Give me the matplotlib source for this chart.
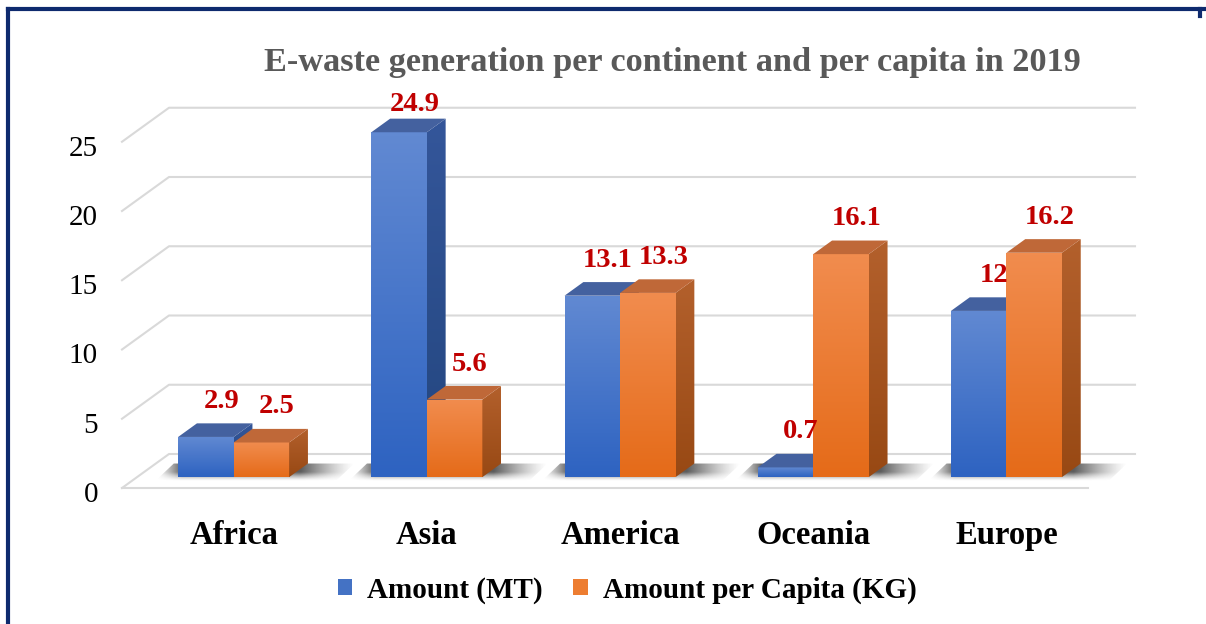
"""
E-waste generation per continent and per capita in 2019
Excel-style 3-D clustered column chart, drawn with a simple oblique projection.
"""

import numpy as np
import matplotlib

matplotlib.use("Agg")
import matplotlib.pyplot as plt
from matplotlib.patches import Polygon, Patch
from matplotlib.colors import LinearSegmentedColormap
from matplotlib.lines import Line2D

# ---------- data ----------
continents = ["Africa", "Asia", "America", "Oceania", "Europe"]
amount_mt = [2.9, 24.9, 13.1, 0.7, 12]
amount_per_capita_kg = [2.5, 5.6, 13.3, 16.1, 16.2]
series_names = ["Amount (MT)", "Amount per Capita (KG)"]
y_ticks = [0, 5, 10, 15, 20, 25]
title = "E-waste generation per continent and per capita in 2019"

plt.rcParams["font.family"] = ["Liberation Serif", "DejaVu Serif"]

# ---------- geometry of the fake 3-D box (pixels -> data units) ----------
W, H = 1206, 624
px_cat = 193.2          # pixels per category slot
px_val = 13.85          # pixels per value unit
x0_px, y0_px = 122, 488  # front-left corner of the floor

depth_x = 47 / px_cat   # full depth offset of the box
depth_y = 34 / px_val
bar_front = 0.32        # depth where bar fronts sit
bar_deep = 0.40         # depth of a single bar
bar_w = 55.5 / px_cat

sx, sy = bar_front * depth_x, bar_front * depth_y
dxb, dyb = bar_deep * depth_x, bar_deep * depth_y

fig = plt.figure(figsize=(W / 100, H / 100), dpi=100)
ax = fig.add_axes([0, 0, 1, 1])
xlim = (-0.5 - x0_px / px_cat, -0.5 + (W - x0_px) / px_cat)
ylim = ((y0_px - H) / px_val, y0_px / px_val)

n = len(continents)
idx = np.arange(n)
grid_col = "#D9D9D9"

# ---------- back wall / side wall gridlines ----------
for v in y_ticks:
    ax.plot([-0.5, -0.5 + depth_x, n - 0.5 + depth_x],
            [v, v + depth_y, v + depth_y], color=grid_col, lw=1.5, zorder=1)
    ax.text(-0.5 - 24 / px_cat, v - 0.5, str(v), ha="right", va="center",
            fontsize=21, color="black")
ax.plot([-0.5, n - 0.5], [0, 0], color=grid_col, lw=1.5, zorder=1)

# ---------- soft floor shadows, one per group ----------
gx = np.linspace(0, 1, 200)
gy = np.linspace(0, 1, 40)
for i in idx:
    xl = i - bar_w + sx
    xr = i + bar_w + sx
    ex0, ex1 = xl - 0.12, xr + dxb + 0.24
    ey0, ey1 = sy - 0.3, sy + dyb
    xs = ex0 + gx * (ex1 - ex0)
    fx = np.clip((xs - ex0) / 0.14, 0, 1) * np.clip((ex1 - xs) / (ex1 - xr - dxb * 0.6), 0, 1)
    fy = np.clip(gy / 0.5, 0, 1)
    rgba = np.zeros((len(gy), len(gx), 4))
    rgba[..., :3] = 0.2
    rgba[..., 3] = 0.8 * np.outer(fy, fx) ** 1.3
    im = ax.imshow(rgba, extent=[ex0, ex1, ey0, ey1], origin="lower",
                   aspect="auto", zorder=2, interpolation="bilinear")
    clip = Polygon([(ex0, ey0), (ex1 - dxb, ey0), (ex1, ey1), (ex0 + dxb, ey1)],
                   closed=True, facecolor="none", edgecolor="none")
    ax.add_patch(clip)
    im.set_clip_path(clip)

# ---------- bars ----------
series = [amount_mt, amount_per_capita_kg]
styles = [
    dict(flat="#4472C4", front=("#2E63C1", "#6189D2"), side=("#23467F", "#34569A"),
         top="#44619F"),
    dict(flat="#ED7D31", front=("#E56B19", "#F18C4E"), side=("#984914", "#B3602C"),
         top="#BF6838"),
]

grad = np.linspace(0, 1, 64).reshape(-1, 1)
for k, (vals, st) in enumerate(zip(series, styles)):
    z = 3 + k
    left = idx - bar_w + k * bar_w + sx
    bars = ax.bar(left, vals, width=bar_w, bottom=sy, align="edge",
                  color=st["flat"], zorder=z)
    front_cmap = LinearSegmentedColormap.from_list("f%d" % k, st["front"])
    side_cmap = LinearSegmentedColormap.from_list("s%d" % k, st["side"])
    for rect, v in zip(bars, vals):
        xa = rect.get_x()
        xb = xa + bar_w
        top = sy + v
        im = ax.imshow(grad, extent=[xa, xb, sy, top], origin="lower",
                       cmap=front_cmap, aspect="auto", zorder=z + 0.1,
                       interpolation="bilinear")
        im.set_clip_path(rect)
        side = Polygon([(xb, sy), (xb + dxb, sy + dyb), (xb + dxb, top + dyb), (xb, top)],
                       closed=True, facecolor="none", edgecolor="none", zorder=z + 0.2)
        ax.add_patch(side)
        im2 = ax.imshow(grad, extent=[xb, xb + dxb, sy, top + dyb], origin="lower",
                        cmap=side_cmap, aspect="auto", zorder=z + 0.2,
                        interpolation="bilinear")
        im2.set_clip_path(side)
        ax.add_patch(Polygon([(xa, top), (xb, top), (xb + dxb, top + dyb), (xa + dxb, top + dyb)],
                             closed=True, facecolor=st["top"], edgecolor="none",
                             zorder=z + 0.3))
        # value label
        ax.text(xa + bar_w / 2 + 0.08, min(v + 3.35, 27.7), f"{v:g}", color="#C00000",
                fontsize=20.5, fontweight="bold", ha="center", va="center", zorder=10)

# ---------- category labels ----------
for i, name in zip(idx, continents):
    ax.text(i + sx, -3.45, name, ha="center", va="center",
            fontsize=23.5, fontweight="bold", color="black")

ax.set_xlim(*xlim)
ax.set_ylim(*ylim)
ax.axis("off")

# ---------- title, legend, frame ----------
fig.text(672 / W, 1 - 63 / H, title, ha="center", va="center",
         fontsize=24.7, fontweight="bold", color="#595959")

handles = [Patch(facecolor=styles[0]["flat"]), Patch(facecolor=styles[1]["flat"])]
fig.legend(handles, series_names, loc="center", bbox_to_anchor=(627 / W, 1 - 590 / H),
           ncol=2, frameon=False, prop=dict(weight="bold", size=21),
           handlelength=0.5, handleheight=0.5, handletextpad=0.52, columnspacing=1.03)

frame_col = "#0E2A6E"
fig.add_artist(Line2D([8 / W, 8 / W], [0, 1 - 9 / H], transform=fig.transFigure,
                      color=frame_col, lw=3))
fig.add_artist(Line2D([8 / W, 1], [1 - 9 / H, 1 - 9 / H], transform=fig.transFigure,
                      color=frame_col, lw=3))
fig.add_artist(Line2D([1200 / W, 1200 / W], [1 - 9 / H, 1 - 16 / H],
                      transform=fig.transFigure, color=frame_col, lw=3))

fig.savefig("out.png", dpi=100)
